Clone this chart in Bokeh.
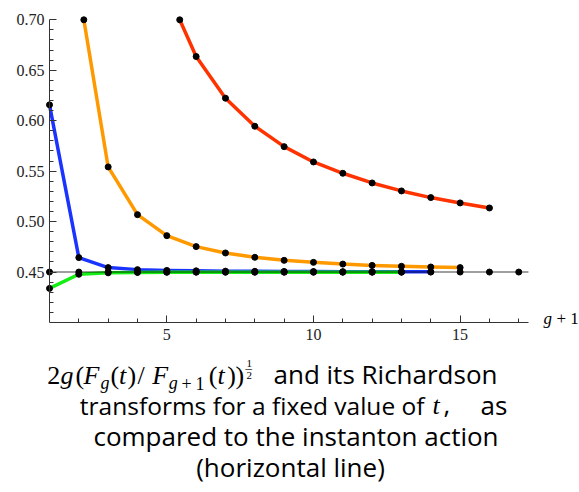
from bokeh.plotting import figure
from bokeh.models import Label, FixedTicker, Range1d, LinearAxis
from bokeh.embed import file_html
from bokeh.resources import INLINE

# ---------------- data ----------------
action = 0.45                      # instanton action (horizontal line)
x_action = list(range(1, 18))
x_blue = list(range(1, 15))
y_blue = [0.6157, 0.4643, 0.4544, 0.4524, 0.4516, 0.4512, 0.4509, 0.4507,
          0.4506, 0.4505, 0.4504, 0.4503, 0.4503, 0.4502]
x_green = list(range(1, 14))
y_green = [0.4338, 0.4478, 0.4492, 0.4496, 0.4498, 0.4499, 0.4499, 0.4499,
           0.4499, 0.4499, 0.4499, 0.4499, 0.4499]
x_orange = list(range(2, 16))
y_orange = [0.730, 0.5542, 0.5069, 0.4861, 0.4752, 0.4689, 0.4646, 0.4616,
            0.4596, 0.4579, 0.4566, 0.4557, 0.4550, 0.4544]
x_red = list(range(5, 17))
y_red = [0.7286, 0.6636, 0.6223, 0.5945, 0.5743, 0.5591, 0.5479, 0.5383,
         0.5304, 0.5238, 0.5185, 0.5135]

y_ticks = [0.45, 0.50, 0.55, 0.60, 0.65, 0.70]
y_tick_labels = ["0.45", "0.50", "0.55", "0.60", "0.65", "0.70"]
x_ticks = [5, 10, 15]
x_tick_labels = ["5", "10", "15"]

# plot range (Mathematica PlotRange)
X_LO, X_HI = 1.0, 17.33
Y_LO, Y_HI = 0.40, 0.70

# ---------------- layout: frame = whole canvas ----------------
W, H = 579, 492
PXX = 29.33                  # px per x unit
PXY = 1009.0                 # px per y unit
X0_PX = 49.0                 # canvas x of x = 1
YTOP_PX = 19.3               # canvas y of y = 0.70
XS = X_LO - X0_PX / PXX
XE = XS + W / PXX
YE = Y_HI + YTOP_PX / PXY
YS = YE - H / PXY
BASE_K = 0.40                # baseline correction (fraction of font size)


def dx(px):
    return XS + px / PXX


def dy(py):
    return YE - py / PXY


def clip_top(xs, ys, top):
    xs, ys = list(xs), list(ys)
    while len(ys) > 1 and ys[0] > top and ys[1] > top:
        xs.pop(0)
        ys.pop(0)
    if ys[0] > top:
        t = (ys[0] - top) / (ys[0] - ys[1])
        xs[0] = xs[0] + t * (xs[1] - xs[0])
        ys[0] = top
    return xs, ys


p = figure(width=W, height=H, x_range=Range1d(XS, XE), y_range=Range1d(YS, YE),
           min_border_left=0, min_border_right=0, min_border_top=0,
           min_border_bottom=0, output_backend="svg", toolbar_location=None,
           x_axis_type=None, y_axis_type=None)
p.outline_line_color = None
p.background_fill_color = "white"
p.border_fill_color = "white"

AX = "#333333"
TICKFONT = "Liberation Serif"

yaxis = LinearAxis(fixed_location=X_LO, bounds=(Y_LO, Y_HI),
                   ticker=FixedTicker(ticks=y_ticks,
                                      minor_ticks=[round(0.40 + 0.01 * i, 2) for i in range(1, 30)]))
yaxis.major_label_overrides = {t: l for t, l in zip(y_ticks, y_tick_labels)}
xaxis = LinearAxis(fixed_location=Y_LO, bounds=(X_LO, X_HI),
                   ticker=FixedTicker(ticks=x_ticks, minor_ticks=list(range(2, 18))))
xaxis.major_label_overrides = {t: l for t, l in zip(x_ticks, x_tick_labels)}
for ax, so in ((yaxis, 5), (xaxis, 6)):
    ax.axis_line_color = AX
    ax.axis_line_width = 1
    ax.major_tick_line_color = AX
    ax.minor_tick_line_color = AX
    ax.major_tick_in = 7
    ax.major_tick_out = 0
    ax.minor_tick_in = 4
    ax.minor_tick_out = 0
    ax.major_label_standoff = so
    ax.major_label_text_font = TICKFONT
    ax.major_label_text_font_size = "16px"
    ax.major_label_text_color = "#222222"
p.add_layout(yaxis, "left")
p.add_layout(xaxis, "below")

LW = 3.5
series = [
    (x_blue, y_blue, "#1a33ff"),
    (x_green, y_green, "#15ee15"),
    (x_orange, y_orange, "#ff9900"),
    (x_red, y_red, "#ff3300"),
]
clipped = []
for xs, ys, col in series:
    cx, cy = clip_top(xs, ys, Y_HI)
    clipped.append((cx, cy))
    p.line(cx, cy, line_color=col, line_width=LW, line_join="round")

# horizontal line: instanton action across the plot range
p.segment(x0=[X_LO], y0=[action], x1=[X_HI], y1=[action],
          line_color="black", line_alpha=0.5, line_width=1.5)

p.scatter(x_action, [action] * len(x_action), size=6, color="black")
for cx, cy in clipped:
    p.scatter(cx, cy, size=6, color="black")


def lab(text, px, py, size, font="Liberation Serif", style="normal", align="left"):
    p.add_layout(Label(x=dx(px), y=dy(py - BASE_K * size), text=text, text_font=font,
                       text_font_size=f"{size}px", text_font_style=style,
                       text_color="black", text_align=align,
                       text_baseline="alphabetic"))


# axis label g + 1
lab("g", 543, 325, 17, style="italic")
lab("+ 1", 556, 325, 17)

# caption line 1: math part
MS = 26
SS = 18
math_pieces = [
    ("2", 46.7, 385, MS, "normal"),
    ("g", 60, 385, MS, "italic"),
    ("(", 75, 385, MS, "normal"),
    ("F", 83, 385, MS, "italic"),
    ("g", 100, 390, SS, "italic"),
    ("(", 110, 385, MS, "normal"),
    ("t", 118.5, 385, MS, "italic"),
    (")", 127, 385, MS, "normal"),
    ("/", 137, 385, MS, "normal"),
    ("F", 151.7, 385, MS, "italic"),
    ("g", 168.3, 390, SS, "italic"),
    ("+", 181, 390, SS, "normal"),
    ("1", 195, 390, SS, "normal"),
    ("(", 208.3, 385, MS, "normal"),
    ("t", 217, 385, MS, "italic"),
    (")", 226.7, 385, MS, "normal"),
    (")", 235, 385, MS, "normal"),
    ("1", 246, 367, 11, "normal"),
    ("\u2013", 245, 372, 13, "normal"),
    ("2", 246, 379, 11, "normal"),
]
for t, px, py, sz, st in math_pieces:
    lab(t, px, py, sz, style=st)

CF = "Open Sans"
CS = 26
lab("and its Richardson", 273, 384, CS, font=CF)
lab("transforms for a fixed value of", 424, 415, 24.5, font=CF, align="right")
lab("t", 432, 415, MS, style="italic")
lab(",", 443, 415, CS, font=CF)
lab("as", 480, 415, CS, font=CF)
lab("compared to the instanton action", 295.5, 446, CS, font=CF, align="center")
lab("(horizontal line)", 290, 477, CS, font=CF, align="center")

open("out.html", "w").write(file_html(p, INLINE))
